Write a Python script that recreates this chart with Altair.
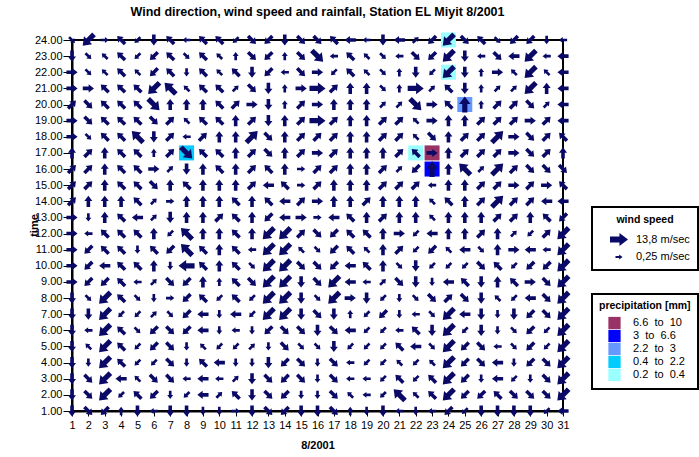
import altair as alt
import pandas as pd

DAYS = list(range(1, 32))
HOURS = list(range(1, 25))

# Wind arrows, one string per hour (days 1..31). Token = direction the arrow points,
# suffix "-" = light wind, none = moderate, "+" = strong wind.
WIND = {
    24: "SE- SW+ E- NW SW- S NW W- NW NW SW- SE SW S SE SE NW W W- S W NE- SW SW+ SE NW SE- SW SW S- W-",
    23: "S SE- NW- NW SW- SW NW SE- NW NW- N- SE SW N- SE SE+ W- NW NW- SE- W- SE SW SW+ S W- SE W SW+ W- W",
    22: "E SE- NW- NW NW- SW NW S- NW NW- NW S SW W- SE E SW- NW NW- SE- N- S SW- SW+ S N- E NW- SW+ NW- W",
    21: "E E NW NW NW SW+ NW+ NW- NW NW NE- SE S N- E E+ NE N N SE- N- E+ NE- NW S N- NE- NE- SW+ N W",
    20: "NE SE NW NW NW SE+ N N N NW NE E S N- NE E N N N NE- NE- SE+ E NW N+ N- NE NE SE NE- W",
    19: "E SE NW NW NW SE NE NW- NW NW N NE S N NE E+ NE N N NE NE NW- E N N NE NE NE E NE W",
    18: "E SE- NW NW NW+ S NE W- NE N N NE+ SE N NE NE NE N N NE NE NW- SE N NE NE NE+ E SE NE NW",
    17: "N NE N NW NW N- NE SE+ NW NW N NE SE N NE E NE N N N NE NW E N NE NE NE E SE NE N",
    16: "NE NE N NW NW E NE- S N NW N NE NW N E- NE NE N N NE NE- SW N+ N NW+ NE- NE+ NE SE SE SE",
    15: "NE NE N NW NW SE N NW N N N NE W NW E- NE N N N NE NE NE W- N N NE NE E NE E NW",
    14: "NE N N N NW NE- E- N N N NW N NW W NE E N N NE N N N NW- NW N NE NE+ NE NE W W",
    13: "E S- N NW W NE- S N N NE NW N SW W E E- W NW N NE N N NW- N N N NE NE N NW SW",
    12: "E W- NW NW NW N SW- NW+ N N NW N SW+ SW+ NE SE SW NW NW N E SW- W N N NE N NE- SW- NE SW+",
    11: "E SW NW NW S- NW SW NW+ NW N NW W- SW+ SW+ NW- SE- SW NW NW- N NE SW- SW NW- W SE- N E W W- SW+",
    10: "E SW W NW NW N S- W+ NW N NW SE- SW+ SW+ SE SE SW W NW N SE- S SW- SW- SW- SE NW SW- SW SW SW+",
    9: "E SW SW NW W- NE- SE SW N N- NW SE SW+ SW+ S SE SW+ W W- NE- SE S S- W NW S N NW E SE SW+",
    8: "S SE- SW+ NW SE- S- E- SW NW SW- NW SW- SW+ SW+ S SE- SW+ E S SW- S- SE- SE NE SE S NW- SW- W SE SW+",
    7: "S S SW+ SW- SW- NE- SE- SW W S- W SW- SW+ SW+ S SE S N- SW- SW S- W- SE- SW+ W S S- S SW SE SW+",
    6: "S W- SW+ NW SE- SW SE SW W S- W- S- SW SE SE S SE W SW- SW- W- NW S SW+ SW- S S- SE- SW SW- SW+",
    5: "S NW- SW+ NW SW- SW SE S- NW- SW- SW- NE- S- SE SE- SE- S SW- SW- SW- NW W SE- SW+ SW SE W- SE- SW SW- SW+",
    4: "S S- SW+ NW SW- SW- SE S- NW W S- S- S SW SE S- SE W- SW- SW- NW- SW- NW- SW+ SW SE W S- SW SE SW+",
    3: "S SE SW+ W NW- SE SE W- W W- NE- S SE SW SE S- SE W- W- SW- NW SW- NW SW+ SW S- W SW- S- SE SW+",
    2: "S SE SW+ SW- NW SW S- SW- W NE- NW S SE SW S- S- SE NW- W- SW- NW+ NW- NW SW+ SW SW NW SE SE SE SW+",
    1: "S SE SW N- S W- S S S- S- E- S SE SW S S SE N- S- S W- S- W- SW SW- S S S S SW- W",
}
BEARING = {"N": 0, "NE": 45, "E": 90, "SE": 135, "S": 180, "SW": 225, "W": 270, "NW": 315}
SPEED = {"-": 1.2, "": 4.0, "+": 10.5}

# Precipitation cells
RAIN_DAY = [8, 22, 23, 23, 25, 24, 24]
RAIN_HOUR = [17, 17, 17, 16, 20, 22, 24]
RAIN_CLASS = [3, 4, 0, 1, 2, 4, 4]
CLASSES = ["6.6\u00a0 to\u00a0 10", "3\u00a0 to\u00a0 6.6", "2.2\u00a0 to\u00a0 3",
           "0.4\u00a0 to\u00a0 2.2", "0.2\u00a0 to\u00a0 0.4"]
CLASS_COLORS = ["#993366", "#0000FF", "#6699FF", "#00CCFF", "#99FFFF"]

SPEED_LEGEND = [13.8, 0.25]
SPEED_LABELS = ["13,8 m/sec", "0,25 m/sec"]

NAVY = "#0a0a66"
FONT = "Liberation Sans"
ARROW = "M-1,-0.32 L0.05,-0.32 L0.05,-0.72 L1,0 L0.05,0.72 L0.05,0.32 L-1,0.32 Z"

rows = []
for h in HOURS:
    toks = WIND[h].split()
    for d, t in zip(DAYS, toks):
        suf = t[-1] if t[-1] in "+-" else ""
        dname = t.rstrip("+-")
        rows.append({"day": d, "hour": h, "rot": (BEARING[dname] + 270) % 360,
                     "speed": SPEED[suf]})
wind_df = pd.DataFrame(rows)
rain_df = pd.DataFrame({"day": RAIN_DAY, "hour": RAIN_HOUR,
                        "cls": [CLASSES[i] for i in RAIN_CLASS]})

x = alt.X("day:Q", scale=alt.Scale(domain=[1, 31], nice=False, zero=False),
          axis=alt.Axis(values=DAYS, format="d", title="8/2001", tickSize=5,
                        labelPadding=3, titleY=34, titleBaseline="middle",
                        labelFlush=False, labelOverlap=False))
y = alt.Y("hour:Q", scale=alt.Scale(domain=[1, 24], nice=False, zero=False),
          axis=alt.Axis(values=HOURS, format=".2f", title="time", tickSize=9,
                        labelPadding=1, titleX=-38, titleY=185, titleAngle=270,
                        titleAlign="center", titleBaseline="middle",
                        labelFlush=False, labelOverlap=False))

rain = alt.Chart(rain_df).mark_square(size=225, opacity=1).encode(
    x=x, y=y,
    color=alt.Color("cls:N", scale=alt.Scale(domain=CLASSES, range=CLASS_COLORS),
                    legend=alt.Legend(title="precipitation [mm]", orient="none",
                                      legendX=520, legendY=254, symbolType="square",
                                      symbolSize=150, symbolStrokeWidth=0,
                                      symbolOffset=9, labelOffset=12, rowPadding=0,
                                      padding=7, titlePadding=5))
)

label_expr = " : ".join(
    [f"datum.value == {v} ? '{l}'" for v, l in zip(SPEED_LEGEND, SPEED_LABELS)]
) + " : ''"

arrows = alt.Chart(wind_df).mark_point(shape=ARROW, filled=True, opacity=1,
                                       color=NAVY, strokeWidth=0).encode(
    x=x, y=y,
    angle=alt.Angle("rot:Q", scale=None),
    size=alt.Size("speed:Q", scale=alt.Scale(domain=[0.25, 13.8], range=[49, 324]),
                  legend=alt.Legend(title="wind speed", orient="none", legendX=520,
                                    legendY=167, values=SPEED_LEGEND,
                                    labelExpr=label_expr, symbolType=ARROW,
                                    symbolFillColor=NAVY, symbolStrokeWidth=0,
                                    symbolOffset=10, labelOffset=8, rowPadding=4,
                                    padding=8, titleAnchor="middle"))
)

chart = alt.layer(rain, arrows).properties(
    width=491, height=371,
    padding={"left": 72, "top": 40, "right": 136, "bottom": 46},
    autosize=alt.AutoSizeParams(type="none"),
    title=alt.TitleParams("Wind direction, wind speed and rainfall, Station EL Miyit 8/2001",
                          font=FONT, fontSize=12.5, fontWeight="bold", anchor="middle",
                          offset=14, color="black"),
).configure_view(stroke="black", strokeWidth=2).configure_axis(
    domainColor="black", domainWidth=2, tickColor="black", tickWidth=1,
    labelColor="black", labelFont=FONT, labelFontSize=11, titleFont=FONT,
    titleFontSize=11, titleFontWeight="bold", titleColor="black", grid=False,
).configure_legend(
    strokeColor="black", strokeWidth=2, fillColor="white", titleFont=FONT,
    titleFontSize=10.5, titleFontWeight="bold", titleColor="black", labelFont=FONT,
    labelFontSize=11, labelColor="black",
)

chart.save("out.html", embed_options={"renderer": "svg", "actions": False})
